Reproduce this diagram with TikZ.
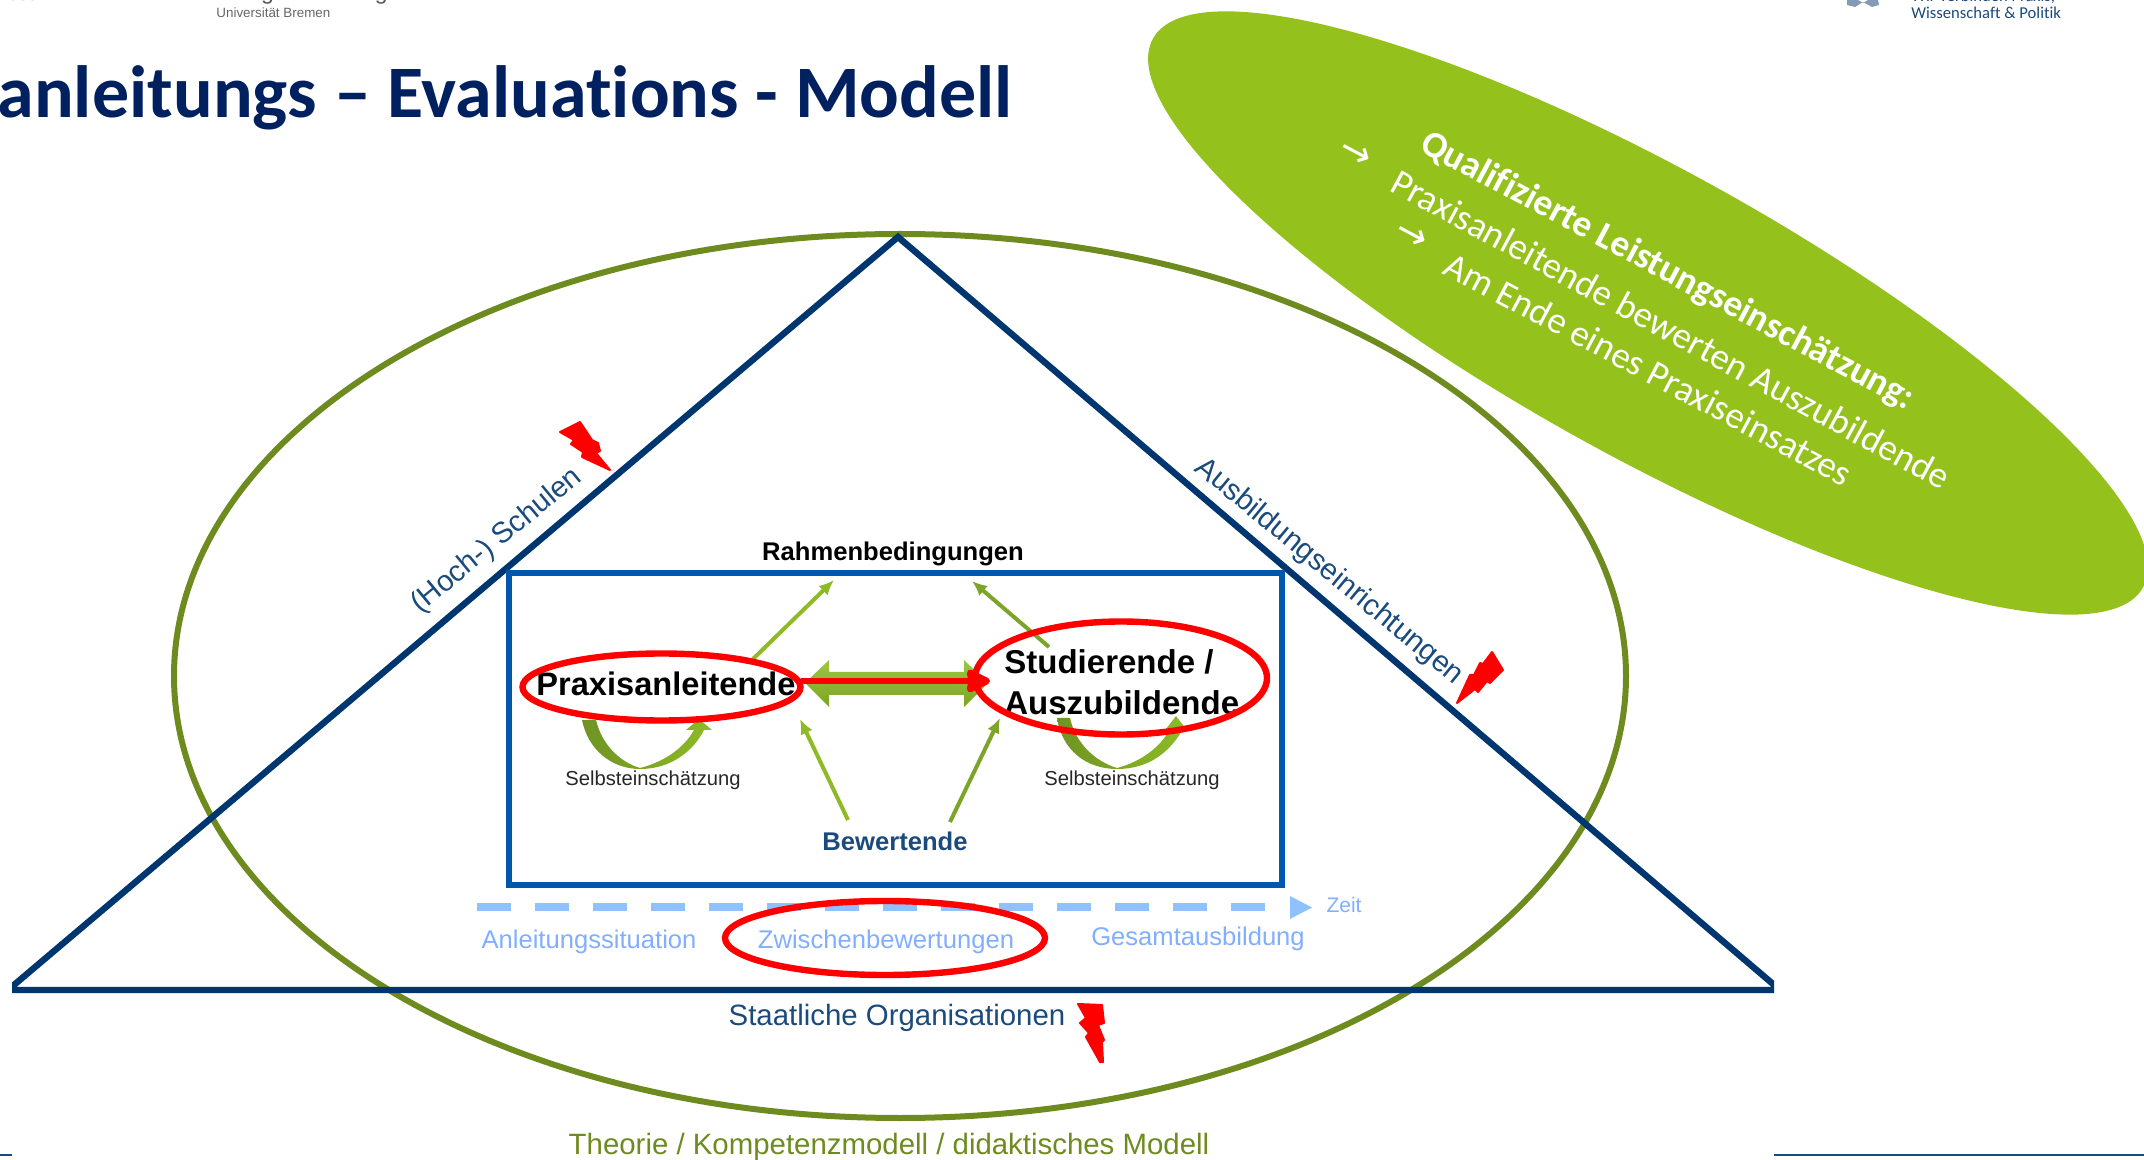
\documentclass[tikz,border=0pt]{standalone}
\usepackage{fontspec}
\setmainfont{Liberation Sans}
\newfontfamily\carlito[Ligatures=CommonOff]{Carlito}
\newfontfamily\djv{DejaVu Sans}
\usetikzlibrary{arrows.meta,shapes.geometric}
\definecolor{olivering}{HTML}{6E8B1F}
\definecolor{navytri}{HTML}{003670}
\definecolor{boxblue}{HTML}{0058AE}
\definecolor{titleblue}{HTML}{002060}
\definecolor{leafgreen}{HTML}{94C11C}
\definecolor{lightgr}{HTML}{8DBB25}
\definecolor{darkgr}{HTML}{7BA428}
\definecolor{labelblue}{HTML}{1B4A7C}
\definecolor{skyblue}{HTML}{8FC1FF}
\definecolor{hardred}{HTML}{FF0000}
\tikzset{
  redring/.style={draw=hardred,line width=3.2pt,ellipse,inner sep=0pt},
  thinarrow/.style={line width=2pt,-{Latex[length=7.5pt,width=6.5pt]}},
  bolt/.style={fill=hardred,draw=hardred,line width=1pt,line join=round},
  tilttext/.style={anchor=base west,text=white,inner sep=0pt,font=\carlito\fontsize{18.5}{22}\selectfont},
  skylabel/.style={text=skyblue!90!blue,inner sep=0pt,font=\fontsize{12.8}{15}\selectfont},
  selfl/.style={text=black!85,inner sep=0pt,font=\fontsize{10.1}{12}\selectfont},
  boldl/.style={inner sep=0pt,font=\bfseries\fontsize{16.3}{19}\selectfont,anchor=base west},
}
\begin{document}
\begin{tikzpicture}[x=0.5pt,y=-0.5pt]
\useasboundingbox (0,0) rectangle (2144,1160);
% header fragments
\node[anchor=base east,inner sep=0pt,text=black!65,font=\fontsize{9.5}{11}\selectfont] (hdleft) at (38,1) {Sciences};
\node[anchor=base east,inner sep=0pt,text=black!65,font=\fontsize{11.5}{13}\selectfont] (hdmid) at (388,0) {Pflegeforschung};
\node[anchor=base west,inner sep=0pt,text=black!60,font=\fontsize{6.7}{9}\selectfont] (hduni) at (216,18) {Universität Bremen};
\node[anchor=base west,inner sep=0pt,text=labelblue,font=\carlito\fontsize{8.3}{10}\selectfont] (hdwir) at (1911,2) {Wir verbinden Praxis,};
\node[anchor=base west,inner sep=0pt,text=labelblue,font=\carlito\fontsize{8.3}{10}\selectfont] (hdwis) at (1911,19) {Wissenschaft \& Politik};
\fill[color=labelblue!55] (1847,0) -- (1858,0) -- (1863,3) -- (1868,0) -- (1878,0) -- (1879,5) -- (1872,7) -- (1863,2) -- (1855,7) -- (1847,5) -- cycle;
% title
\node[anchor=base east,inner sep=0pt,text=titleblue,font=\carlito\bfseries\fontsize{37}{44}\selectfont] (title) at (1013,118) {anleitungs – Evaluations - Modell};
% footer rules
\draw[line width=1pt,labelblue] (0,1155) -- (12,1155);
\draw[line width=1pt,labelblue] (1774,1155) -- (2144,1155);
% theory ring
\node[draw=olivering,line width=3pt,ellipse,inner sep=0pt,minimum width=726pt,minimum height=442pt] (ring) at (900,676) {};
% triangle
\begin{scope}
\clip (12,0) rectangle (1774,1160);
\coordinate (apex) at (898,237);
\coordinate (tl) at (8,990);
\coordinate (tr) at (1780,990);
\draw[navytri,line width=3.2pt,line join=miter] (tl) -- (apex) -- (tr) -- cycle;
\end{scope}
% green leaf
\node[fill=leafgreen,ellipse,inner sep=0pt,minimum width=566pt,minimum height=143pt,rotate=-29] (leaf) at (1648,313) {};
\node[tilttext,rotate=-28,font=\carlito\bfseries\fontsize{18.6}{22}\selectfont] (q1) at (1418,150) {Qualifizierte Leistungseinschätzung:};
\node[tilttext,rotate=-28.5] (q2) at (1388,190) {Praxisanleitende bewerten Auszubildende};
\node[tilttext,rotate=-28] (q3) at (1441,273) {Am Ende eines Praxiseinsatzes};
\node[tilttext,rotate=-28,font=\djv\fontsize{19}{22}\selectfont] (a1) at (1336,155) {→};
\node[tilttext,rotate=-28,font=\djv\fontsize{19}{22}\selectfont] (a2) at (1392,237) {→};
% box
\node[draw=boxblue,line width=3pt,inner sep=0pt,minimum width=386.5pt,minimum height=156pt] (box) at (895.5,729) {};
% labels on sides
\node[text=labelblue,inner sep=0pt,rotate=39.5,font=\fontsize{14.6}{18}\selectfont] (lschule) at (497,541) {(Hoch-) Schulen};
\node[text=labelblue,inner sep=0pt,rotate=-39.5,font=\fontsize{14.75}{18}\selectfont] (lausb) at (1329,572) {Ausbildungseinrichtungen};
\node[text=labelblue,inner sep=0pt,font=\fontsize{14.7}{18}\selectfont] (lstaat) at (897,1018) {Staatliche Organisationen};
\node[text=olivering,inner sep=0pt,font=\fontsize{14.7}{18}\selectfont] (ltheorie) at (889,1146.5) {Theorie / Kompetenzmodell / didaktisches Modell};
% inner labels
\node[inner sep=0pt,font=\bfseries\fontsize{12.8}{15}\selectfont] (rahmen) at (893,554) {Rahmenbedingungen};
\node[inner sep=0pt,text=labelblue,font=\bfseries\fontsize{12.8}{15}\selectfont] (bewert) at (895,841) {Bewertende};
\node[selfl] (self1) at (653,780) {Selbsteinschätzung};
\node[selfl] (self2) at (1132,780) {Selbsteinschätzung};
% thin arrows
\coordinate (a1s) at (753,659); \coordinate (a1e) at (834,580);
\coordinate (a2s) at (1049,647); \coordinate (a2e) at (972,581);
\coordinate (a3s) at (848,820); \coordinate (a3e) at (800,719);
\coordinate (a4s) at (950,822); \coordinate (a4e) at (1000,718);
\draw[thinarrow,lightgr] (a1s) -- (a1e);
\draw[thinarrow,darkgr] (a2s) -- (a2e);
\draw[thinarrow,lightgr] (a3s) -- (a3e);
\draw[thinarrow,darkgr] (a4s) -- (a4e);
% self-assessment crescents
\path[left color=darkgr!90!black,right color=lightgr]
  (582,720) .. controls (588,750) and (612,769) .. (640,769)
  .. controls (672,769) and (694,750) .. (704,730) -- (712,730) -- (699,719) -- (686,730) -- (694,730)
  .. controls (684,748) and (664,762) .. (640,768)
  .. controls (620,762) and (602,745) .. (596,720) -- cycle;
\path[left color=darkgr!90!black,right color=lightgr]
  (1057,718) .. controls (1062,750) and (1086,769) .. (1117,769)
  .. controls (1149,769) and (1170,752) .. (1183,729) -- (1186,729) -- (1176,716) -- (1166,729) -- (1170,729)
  .. controls (1160,748) and (1140,762) .. (1117,768)
  .. controls (1097,762) and (1076,745) .. (1070,718) -- cycle;
% double green arrow
\path[top color=lightgr!85!white,bottom color=lightgr!88!black]
  (805,683) -- (829,660) -- (829,672) -- (964,672) -- (964,660) -- (988,683) -- (964,707) -- (964,695) -- (829,695) -- (829,707) -- cycle;
% texts of the actors
\node[boldl] (praxis) at (536,696) {Praxisanleitende};
\node[boldl,font=\bfseries\fontsize{16.5}{19}\selectfont] (stud) at (1004,674) {Studierende /};
\node[boldl,font=\bfseries\fontsize{16.5}{19}\selectfont] (ausz) at (1004,715) {Auszubildende};
% red rings
\node[redring,minimum width=139pt,minimum height=33.5pt] (rpraxis) at (661.5,687) {};
\node[redring,minimum width=146pt,minimum height=56.5pt] (rstud) at (1121,678) {};
% red arrow
\coordinate (rtip) at (990,681);
\draw[hardred,line width=3.4pt,-{Stealth[length=14pt,width=13pt,inset=1pt,round]}] (rpraxis.east) ++(-3,-6) coordinate (rs) (rs) -- (rtip);
% time line
\coordinate (ts) at (477,907); \coordinate (te) at (1265,907);
\draw[skyblue,line width=4pt,dash pattern=on 17pt off 12pt] (ts) -- (te);
\fill[skyblue] (1290,896) -- (1312,907.5) -- (1290,919) -- cycle;
\node[skylabel,font=\fontsize{10.5}{12}\selectfont] (zeit) at (1344,905) {Zeit};
\node[skylabel] (anl) at (589,941.5) {Anleitungssituation};
\node[skylabel] (zwi) at (886,941.5) {Zwischenbewertungen};
\node[skylabel] (ges) at (1198,938.5) {Gesamtausbildung};
\node[redring,minimum width=160pt,minimum height=37pt] (rzwi) at (885,938) {};
% lightning bolts
\path[bolt] (560,432) -- (580,422) -- (592,440) -- (598,443) -- (600,451) -- (596,453) -- (610,470) -- (582,457) -- (583,452) -- (571,444) -- (574,440) -- cycle;
\path[bolt] (1457,703) -- (1470,675) -- (1474,675) -- (1480,663) -- (1483,664) -- (1492,652) -- (1503,670) -- (1490,683) -- (1487,681) -- (1478,692) -- (1475,689) -- cycle;
\path[bolt] (1078,1004) -- (1102,1005) -- (1104,1023) -- (1098,1025) -- (1104,1040) -- (1102,1042) -- (1103,1062) -- (1100,1062) -- (1086,1037) -- (1089,1033) -- (1080,1023) -- (1086,1018) -- cycle;
\end{tikzpicture}
\end{document}
